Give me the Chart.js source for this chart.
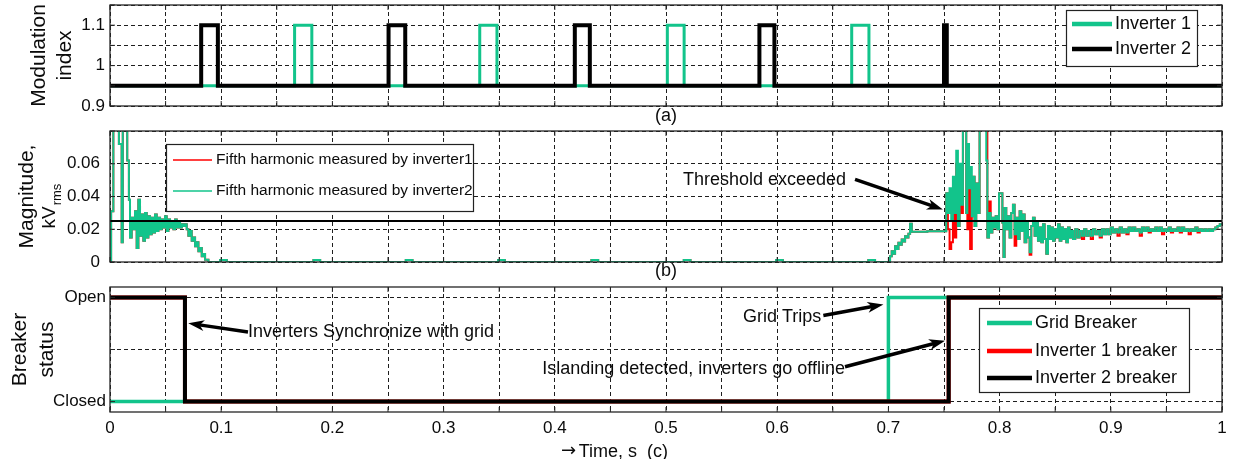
<!DOCTYPE html>
<html>
<head>
<meta charset="utf-8">
<title>Islanding detection</title>
<script src="https://cdn.jsdelivr.net/npm/chart.js@4.4.1/dist/chart.umd.min.js"></script>
<style>
  html, body { margin: 0; padding: 0; background: #fff; }
  #wrap { position: relative; width: 1233px; height: 459px; overflow: hidden; }
  canvas { position: absolute; left: 0; }
</style>
</head>
<body>
<div id="wrap">
  <canvas id="modChart" width="1233" height="128" style="top:0px"></canvas>
  <canvas id="harmChart" width="1233" height="159" style="top:124px"></canvas>
  <canvas id="brkChart" width="1233" height="178" style="top:281px"></canvas>
</div>
<script>
// ---- (a) modulation index, step values held until the next time
const modInv1Time = [0, 0.166, 0.1815, 0.3325, 0.348, 0.5012, 0.5163, 0.667, 0.6825, 1];
const modInv1 = [0.95, 1.1, 0.95, 1.1, 0.95, 1.1, 0.95, 1.1, 0.95, 0.95];
const modInv2Time = [0, 0.082, 0.097, 0.2505, 0.2655, 0.418, 0.4315, 0.584, 0.5975, 0.750, 0.7525, 1];
const modInv2 = [0.95, 1.1, 0.95, 1.1, 0.95, 1.1, 0.95, 1.1, 0.95, 1.1, 0.95, 0.95];
const modTickLabels = [0.9, 1, 1.1];

// ---- (b) fifth harmonic magnitude, kV rms
const harmTime = [
  0, 0.001, 0.003, 0.008, 0.0105, 0.0115, 0.0155, 0.017, 0.018, 0.0195,
  0.021, 0.0225, 0.024, 0.0255, 0.027, 0.0285, 0.030, 0.0315, 0.033, 0.0345,
  0.036, 0.0375, 0.039, 0.0405, 0.042, 0.0435, 0.045, 0.0465, 0.048, 0.0495,
  0.051, 0.0525, 0.054, 0.0555, 0.057, 0.0585, 0.060, 0.0615, 0.063, 0.0645,
  0.066, 0.0675, 0.069, 0.0705, 0.072, 0.0735, 0.075, 0.0765, 0.078, 0.0795,
  0.081, 0.0825, 0.084, 0.0855, 0.0885, 0.099, 0.105, 0.183, 0.189, 0.266,
  0.272, 0.349, 0.355, 0.433, 0.439, 0.516, 0.522, 0.599, 0.605, 0.682,
  0.688, 0.7015, 0.703, 0.7045, 0.706, 0.7075, 0.709, 0.7105, 0.712, 0.7135,
  0.715, 0.7165, 0.718, 0.7195, 0.721, 0.735, 0.752, 0.7535, 0.755, 0.7565,
  0.758, 0.7595, 0.761, 0.7625, 0.764, 0.7655, 0.767, 0.770, 0.771, 0.7725,
  0.7735, 0.775, 0.776, 0.7775, 0.779, 0.7805, 0.782, 0.788, 0.789, 0.7905,
  0.792, 0.7935, 0.795, 0.7965, 0.798, 0.7995, 0.8025, 0.8035, 0.8045, 0.806,
  0.8075, 0.809, 0.8105, 0.812, 0.8135, 0.815, 0.8165, 0.818, 0.8195, 0.821,
  0.8225, 0.824, 0.8255, 0.827, 0.8285, 0.830, 0.8315, 0.833, 0.8345, 0.836,
  0.8375, 0.839, 0.8405, 0.842, 0.8435, 0.845, 0.8465, 0.848, 0.8495, 0.851,
  0.8525, 0.854, 0.8555, 0.857, 0.8585, 0.860, 0.8615, 0.863, 0.8645, 0.866,
  0.868, 0.870, 0.872, 0.874, 0.876, 0.878, 0.880, 0.882, 0.884, 0.886,
  0.888, 0.890, 0.892, 0.894, 0.896, 0.898, 0.900, 0.902, 0.904, 0.906,
  0.908, 0.910, 0.912, 0.914, 0.916, 0.918, 0.920, 0.922, 0.924, 0.926,
  0.928, 0.930, 0.932, 0.934, 0.936, 0.938, 0.940, 0.942, 0.944, 0.946,
  0.948, 0.950, 0.952, 0.954, 0.956, 0.958, 0.960, 0.962, 0.964, 0.966,
  0.968, 0.970, 0.972, 0.974, 0.976, 0.978, 0.980, 0.982, 0.984, 0.986,
  0.988, 0.990, 0.992, 0.994, 0.996, 0.998, 1.000
];
const harmInv1 = [
  0, 0.031, 0.095, 0.072, 0.012, 0.095, 0.062, 0.038, 0.015, 0.027,
  0.020, 0.031, 0.0086, 0.038, 0.016, 0.029, 0.013, 0.030, 0.015, 0.028,
  0.017, 0.027, 0.018, 0.029, 0.019, 0.027, 0.020, 0.026, 0.021, 0.028,
  0.019, 0.026, 0.021, 0.025, 0.020, 0.026, 0.021, 0.024, 0.021, 0.023,
  0.022, 0.023, 0.020, 0.016, 0.019, 0.013, 0.015, 0.0096, 0.012, 0.0066,
  0.0086, 0.0035, 0.0049, 0.0014, 0, 0.0012, 0, 0.0012, 0, 0.0012,
  0, 0.0012, 0, 0.0012, 0, 0.0012, 0, 0.0012, 0, 0.0012,
  0, 0.0035, 0.0066, 0.005, 0.0096, 0.008, 0.0117, 0.0105, 0.0137, 0.0125,
  0.0158, 0.015, 0.0172, 0.0234, 0.0185, 0.0188, 0.042, 0.020, 0.008, 0.012,
  0.040, 0.015, 0.060, 0.022, 0.055, 0.030, 0.095, 0.030, 0.020, 0.045,
  0.008, 0.028, 0.052, 0.022, 0.048, 0.030, 0.095, 0.095, 0.015, 0.037,
  0.018, 0.027, 0.021, 0.028, 0.020, 0.042, 0.024, 0.003, 0.033, 0.020,
  0.028, 0.015, 0.030, 0.035, 0.010, 0.027, 0.014, 0.031, 0.019, 0.029,
  0.012, 0.024, 0.015, 0.0045, 0.022, 0.027, 0.016, 0.025, 0.013, 0.021,
  0.012, 0.023, 0.014, 0.005, 0.022, 0.014, 0.021, 0.013, 0.020, 0.015,
  0.023, 0.013, 0.021, 0.014, 0.020, 0.012, 0.021, 0.015, 0.019, 0.014,
  0.020, 0.015, 0.019, 0.014, 0.020, 0.016, 0.019, 0.014, 0.020, 0.017,
  0.019, 0.015, 0.020, 0.017, 0.020, 0.017, 0.021, 0.018, 0.020, 0.016,
  0.021, 0.018, 0.020, 0.017, 0.021, 0.019, 0.021, 0.019, 0.020, 0.016,
  0.021, 0.019, 0.021, 0.018, 0.020, 0.019, 0.021, 0.019, 0.021, 0.017,
  0.020, 0.019, 0.021, 0.018, 0.020, 0.019, 0.021, 0.018, 0.021, 0.019,
  0.020, 0.017, 0.020, 0.019, 0.021, 0.018, 0.020, 0.019, 0.020, 0.019,
  0.020, 0.019, 0.020, 0.021, 0.022, 0.023, 0.023
];
const harmInv2 = [
  0, 0.031, 0.095, 0.072, 0.012, 0.095, 0.062, 0.038, 0.015, 0.027,
  0.020, 0.031, 0.0086, 0.038, 0.016, 0.029, 0.013, 0.030, 0.015, 0.028,
  0.017, 0.027, 0.018, 0.029, 0.019, 0.027, 0.020, 0.026, 0.021, 0.028,
  0.019, 0.026, 0.021, 0.025, 0.020, 0.026, 0.021, 0.024, 0.021, 0.023,
  0.022, 0.023, 0.020, 0.016, 0.019, 0.013, 0.015, 0.0096, 0.012, 0.0066,
  0.0086, 0.0035, 0.0049, 0.0014, 0, 0.0012, 0, 0.0012, 0, 0.0012,
  0, 0.0012, 0, 0.0012, 0, 0.0012, 0, 0.0012, 0, 0.0012,
  0, 0.0035, 0.0066, 0.005, 0.0096, 0.008, 0.0117, 0.0105, 0.0137, 0.0125,
  0.0158, 0.015, 0.0172, 0.0234, 0.0185, 0.0188, 0.042, 0.030, 0.045, 0.025,
  0.052, 0.030, 0.068, 0.022, 0.060, 0.035, 0.095, 0.030, 0.072, 0.045,
  0.058, 0.028, 0.052, 0.022, 0.048, 0.030, 0.095, 0.062, 0.015, 0.030,
  0.018, 0.027, 0.021, 0.028, 0.020, 0.042, 0.024, 0.003, 0.033, 0.020,
  0.028, 0.015, 0.030, 0.035, 0.017, 0.027, 0.014, 0.031, 0.019, 0.029,
  0.012, 0.024, 0.015, 0.006, 0.022, 0.027, 0.016, 0.025, 0.013, 0.021,
  0.012, 0.023, 0.014, 0.005, 0.022, 0.014, 0.021, 0.013, 0.020, 0.015,
  0.023, 0.013, 0.021, 0.014, 0.020, 0.012, 0.021, 0.015, 0.019, 0.014,
  0.020, 0.015, 0.019, 0.016, 0.020, 0.016, 0.019, 0.016, 0.020, 0.017,
  0.019, 0.016, 0.020, 0.017, 0.020, 0.017, 0.021, 0.018, 0.020, 0.018,
  0.021, 0.018, 0.020, 0.018, 0.021, 0.019, 0.021, 0.019, 0.020, 0.018,
  0.021, 0.019, 0.021, 0.019, 0.020, 0.019, 0.021, 0.019, 0.021, 0.019,
  0.020, 0.019, 0.021, 0.019, 0.020, 0.019, 0.021, 0.019, 0.021, 0.019,
  0.020, 0.019, 0.020, 0.019, 0.021, 0.019, 0.020, 0.019, 0.020, 0.019,
  0.020, 0.019, 0.020, 0.021, 0.022, 0.023, 0.023
];
const harmThreshold = 0.025;
const harmTickLabels = [0, 0.02, 0.04, 0.06];

// ---- (c) breaker status (0 = Closed, 1 = Open)
const gridBrkTime = [0, 0.7, 1];
const gridBrk = [0, 1, 1];
const invBrkTime = [0, 0.0674, 0.7542, 1];
const inv1Brk = [1, 0, 1, 1];
const inv2Brk = [1, 0, 1, 1];
const brkTickLabels = { 0: 'Closed', 1: 'Open' };

const FONT = '"Liberation Sans", Arial, Helvetica, sans-serif';
const INK = '#0b0b0b';
const GRID = '#1e1e1e';
const GREEN = '#12c48b';
const RED = '#ff0000';
const BLACK = '#000000';

if (harmTime.length !== harmInv1.length || harmTime.length !== harmInv2.length) {
    console.error('harmonic arrays differ in length', harmTime.length, harmInv1.length, harmInv2.length);
}

const toPoints = (ts, vs) => ts.map((t, i) => ({ x: t, y: vs[i] }));
const near = (list, v) => list.some(l => Math.abs(l - v) < 1e-9);

function drawArrow(ctx, x0, y0, x1, y1) {
    const ang = Math.atan2(y1 - y0, x1 - x0);
    const len = 16, half = 5.5;
    ctx.strokeStyle = BLACK;
    ctx.fillStyle = BLACK;
    ctx.lineWidth = 3.5;
    ctx.beginPath();
    ctx.moveTo(x0, y0);
    ctx.lineTo(x1 - Math.cos(ang) * len * 0.7, y1 - Math.sin(ang) * len * 0.7);
    ctx.stroke();
    ctx.save();
    ctx.translate(x1, y1);
    ctx.rotate(ang);
    ctx.beginPath();
    ctx.moveTo(0, 0);
    ctx.lineTo(-len, -half);
    ctx.lineTo(-len * 0.72, 0);
    ctx.lineTo(-len, half);
    ctx.closePath();
    ctx.fill();
    ctx.restore();
}

function drawBoxLegend(chart, lg) {
    const ctx = chart.ctx;
    ctx.fillStyle = '#fff';
    ctx.fillRect(lg.box[0], lg.box[1], lg.box[2], lg.box[3]);
    ctx.strokeStyle = '#222';
    ctx.lineWidth = 1.2;
    ctx.strokeRect(lg.box[0] + 0.5, lg.box[1] + 0.5, lg.box[2], lg.box[3]);
    const items = chart.data.datasets.filter(d => !d.hideInLegend);
    items.forEach((ds, i) => {
        const y = lg.rows[i];
        ctx.strokeStyle = ds.borderColor;
        ctx.lineWidth = ds.legendWidth || ds.borderWidth;
        ctx.beginPath();
        ctx.moveTo(lg.line[0], y);
        ctx.lineTo(lg.line[1], y);
        ctx.stroke();
        ctx.fillStyle = INK;
        ctx.font = lg.size + 'px ' + FONT;
        ctx.textAlign = 'left';
        ctx.textBaseline = 'middle';
        ctx.fillText(ds.label, lg.textX, y);
    });
}

// frame with inward ticks, arrows, notes and boxed legend (Matlab look)
function decor(cfg) {
    return {
        id: 'decor',
        afterDatasetsDraw(chart) {
            const { ctx, chartArea: a, scales } = chart;
            const xs = scales.x, ys = scales.y;
            ctx.save();
            ctx.strokeStyle = '#262626';
            ctx.lineWidth = 1.3;
            ctx.strokeRect(a.left, a.top, a.right - a.left, a.bottom - a.top);
            ctx.lineWidth = 1;
            ctx.beginPath();
            xs.ticks.forEach(t => {
                const x = xs.getPixelForValue(t.value);
                ctx.moveTo(x, a.top); ctx.lineTo(x, a.top + 5);
                ctx.moveTo(x, a.bottom); ctx.lineTo(x, a.bottom - 5);
            });
            ys.ticks.forEach(t => {
                const y = ys.getPixelForValue(t.value);
                ctx.moveTo(a.left, y); ctx.lineTo(a.left + 5, y);
                ctx.moveTo(a.right, y); ctx.lineTo(a.right - 5, y);
            });
            ctx.stroke();

            (cfg.arrows || []).forEach(ar => drawArrow(ctx,
                xs.getPixelForValue(ar.from[0]), ys.getPixelForValue(ar.from[1]),
                xs.getPixelForValue(ar.to[0]), ys.getPixelForValue(ar.to[1])));

            ctx.fillStyle = INK;
            ctx.textBaseline = 'middle';
            (cfg.notes || []).forEach(n => {
                ctx.font = (n.size || 18) + 'px ' + (n.family || FONT);
                ctx.textAlign = n.align || 'left';
                ctx.fillText(n.text, xs.getPixelForValue(n.at[0]), ys.getPixelForValue(n.at[1]));
            });

            if (cfg.legend) drawBoxLegend(chart, cfg.legend);
            if (cfg.yTitle) cfg.yTitle(ctx, a);
            ctx.restore();
        }
    };
}

function timeAxis(height, showLabels, title) {
    return {
        type: 'linear', min: 0, max: 1,
        ticks: {
            stepSize: 0.05, autoSkip: false, maxRotation: 0, minRotation: 0,
            display: showLabels, padding: 6, color: INK,
            font: { family: FONT, size: 17 },
            callback: (v, i) => (i % 2 === 0 ? String(Math.round(v * 10) / 10) : '')
        },
        grid: { color: GRID, lineWidth: 1, drawTicks: false },
        border: { display: false, dash: [4, 3] },
        title: title
            ? { display: true, text: title, color: INK, font: { family: FONT, size: 18, lineHeight: 1.2 }, padding: { top: 0, bottom: 1 } }
            : { display: false },
        afterFit: s => { s.height = height; s.paddingLeft = 0; s.paddingRight = 0; }
    };
}

function valueAxis(o) {
    const axis = {
        type: 'linear', min: o.min, max: o.max,
        ticks: {
            stepSize: o.step, autoSkip: false, padding: o.pad, color: INK,
            font: { family: FONT, size: 17 },
            callback: o.label
        },
        grid: { color: GRID, lineWidth: 1, drawTicks: false },
        border: { display: false, dash: [4, 3] },
        title: o.title || { display: false },
        afterFit: s => { s.width = 110; s.paddingTop = 0; s.paddingBottom = 0; }
    };
    if (o.fixed) axis.afterBuildTicks = s => { s.ticks = o.fixed.map(v => ({ value: v })); };
    return axis;
}

const baseOptions = (padTop, scales) => ({
    responsive: false,
    animation: false,
    devicePixelRatio: 1,
    layout: { padding: { top: padTop, right: 11, left: 0, bottom: 0 } },
    plugins: { legend: { display: false }, tooltip: { enabled: false } },
    elements: { point: { radius: 0 }, line: { tension: 0 } },
    scales: scales
});

// (a) modulation index
new Chart(document.getElementById('modChart'), {
    type: 'line',
    data: {
        datasets: [
            { label: 'Inverter 1', data: toPoints(modInv1Time, modInv1), stepped: true,
              borderColor: GREEN, borderWidth: 3, legendWidth: 4.5, order: 1 },
            { label: 'Inverter 2', data: toPoints(modInv2Time, modInv2), stepped: true,
              borderColor: BLACK, borderWidth: 4, legendWidth: 4.5, order: 0 }
        ]
    },
    options: baseOptions(5, {
        x: timeAxis(22, false, '(a)'),
        y: valueAxis({
            min: 0.9, max: 1.15, step: 0.05, pad: 5,
            label: v => (near(modTickLabels, v) ? String(Math.round(v * 10) / 10) : ''),
            title: { display: true, text: ['Modulation', 'index'], color: INK,
                     font: { family: FONT, size: 21, lineHeight: 1.2 }, padding: { top: 27, bottom: 0 } }
        })
    }),
    plugins: [decor({
        legend: { box: [1066, 10, 131, 56], rows: [24, 49], line: [1072, 1112], textX: 1115, size: 18 }
    })]
});

// (b) fifth harmonic
new Chart(document.getElementById('harmChart'), {
    type: 'line',
    data: {
        datasets: [
            { label: 'Fifth harmonic measured by inverter1', data: toPoints(harmTime, harmInv1), stepped: true,
              borderColor: RED, borderWidth: 2, legendWidth: 1.6, order: 1 },
            { label: 'Fifth harmonic measured by inverter2', data: toPoints(harmTime, harmInv2), stepped: true,
              borderColor: GREEN, borderWidth: 2, legendWidth: 1.6, order: 0 },
            { label: 'Threshold', data: [{ x: 0, y: harmThreshold }, { x: 1, y: harmThreshold }],
              borderColor: BLACK, borderWidth: 2, order: -1, hideInLegend: true }
        ]
    },
    options: baseOptions(7, {
        x: timeAxis(21, false, '(b)'),
        y: valueAxis({
            min: 0, max: 0.08, step: 0.02, pad: 10,
            label: v => (near(harmTickLabels, v) ? String(Math.round(v * 100) / 100) : '')
        })
    }),
    plugins: [decor({
        legend: { box: [166, 20, 307, 67], rows: [36, 67], line: [173, 212], textX: 216, size: 15.5 },
        arrows: [{ from: [0.670, 0.0505], to: [0.749, 0.032] }],
        notes: [{ text: 'Threshold exceeded', at: [0.5153, 0.050], size: 18 }],
        yTitle: (ctx, a) => {
            const cy = (a.top + a.bottom) / 2;
            ctx.fillStyle = INK;
            ctx.save();
            ctx.translate(27, cy);
            ctx.rotate(-Math.PI / 2);
            ctx.textAlign = 'center';
            ctx.textBaseline = 'middle';
            ctx.font = '21px ' + FONT;
            ctx.fillText('Magnitude,', 0, 0);
            ctx.restore();
            ctx.save();
            ctx.translate(55, cy + 32);
            ctx.rotate(-Math.PI / 2);
            ctx.textAlign = 'left';
            ctx.textBaseline = 'alphabetic';
            ctx.font = '19px ' + FONT;
            ctx.fillText('kV', 0, 0);
            const w = ctx.measureText('kV').width;
            ctx.font = '13px ' + FONT;
            ctx.fillText('rms', w + 1, 6);
            ctx.restore();
        }
    })]
});

// (c) breaker status
new Chart(document.getElementById('brkChart'), {
    type: 'line',
    data: {
        datasets: [
            { label: 'Grid Breaker', data: toPoints(gridBrkTime, gridBrk), stepped: true,
              borderColor: GREEN, borderWidth: 3.5, legendWidth: 4.5, order: 2 },
            { label: 'Inverter 1 breaker', data: toPoints(invBrkTime, inv1Brk), stepped: true,
              borderColor: RED, borderWidth: 4, legendWidth: 4.5, order: 1 },
            { label: 'Inverter 2 breaker', data: toPoints(invBrkTime, inv2Brk), stepped: true,
              borderColor: BLACK, borderWidth: 4, legendWidth: 4.5, order: 0 }
        ]
    },
    options: baseOptions(6, {
        x: timeAxis(47, true, null),
        y: valueAxis({
            min: -0.1, max: 1.1, step: 0.5, pad: 4, fixed: [0, 0.5, 1],
            label: v => brkTickLabels[v] || '',
            title: { display: true, text: ['Breaker', 'status'], color: INK,
                     font: { family: FONT, size: 21, lineHeight: 1.29 }, padding: { top: 7, bottom: 0 } }
        })
    }),
    plugins: [decor({
        legend: { box: [979, 27, 210, 84], rows: [42, 70, 97], line: [987, 1032], textX: 1035, size: 18 },
        arrows: [
            { from: [0.1241, 0.668], to: [0.0704, 0.752] },
            { from: [0.6415, 0.826], to: [0.6955, 0.932] },
            { from: [0.661, 0.335], to: [0.7509, 0.585] }
        ],
        notes: [
            { text: 'Inverters Synchronize with grid', at: [0.1241, 0.665] },
            { text: 'Grid Trips', at: [0.5692, 0.81] },
            { text: 'Islanding detected, inverters go offline', at: [0.661, 0.312], align: 'right' },
            { text: '\u2192', at: [0.4055, -0.48], size: 18, family: '"DejaVu Sans", sans-serif' },
            { text: 'Time, s  (c)', at: [0.4215, -0.485], size: 18 }
        ]
    })]
});
</script>
</body>
</html>
